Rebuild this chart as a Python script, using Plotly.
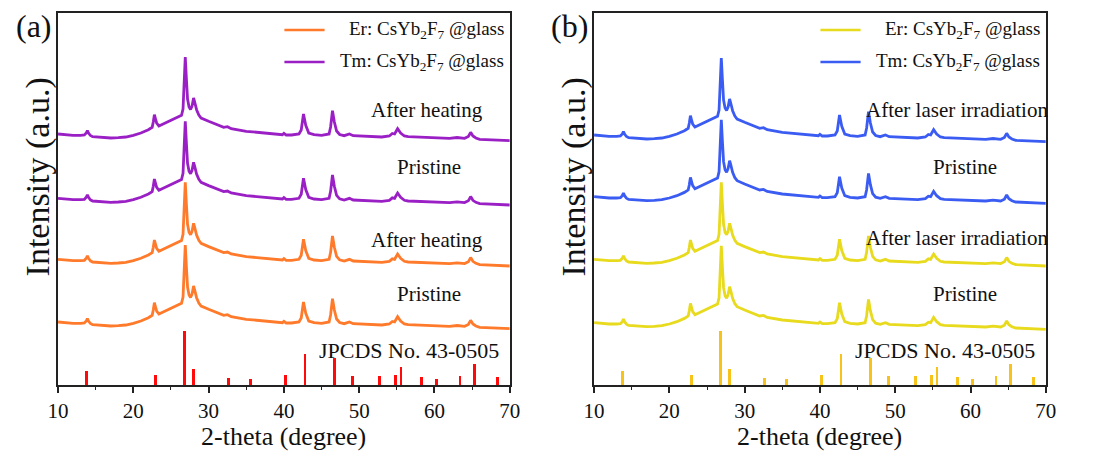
import plotly.graph_objects as go

# 2-theta sampling of the measured XRD pattern (degrees)
two_theta = [10.0, 11.0, 12.0, 13.0, 13.5, 13.75, 13.9, 14.05, 14.3, 14.6, 15.0, 16.0, 17.0,
             18.0, 19.0, 20.0, 21.0, 22.0, 22.5, 22.65, 22.8, 22.95, 23.1, 23.4, 24.0, 25.0,
             26.0, 26.4, 26.6, 26.75, 26.9, 27.05, 27.2, 27.4, 27.6, 27.8, 28.0, 28.15, 28.4,
             28.7, 29.0, 30.0, 31.0, 32.0, 32.5, 33.0, 35.0, 37.0, 39.0, 39.8, 40.0, 40.3,
             41.0, 42.0, 42.3, 42.6, 42.9, 43.3, 44.0, 45.0, 46.0, 46.2, 46.45, 46.7, 47.0,
             47.4, 48.0, 48.7, 49.2, 50.0, 51.0, 53.0, 54.0, 54.4, 54.7, 55.1, 55.5, 56.0,
             56.5, 58.0, 60.0, 62.0, 63.0, 64.0, 64.5, 64.8, 65.1, 65.5, 66.0, 68.0, 70.0]

# Intensity of the pristine Er sample (a.u.)
intensity = [63.0, 62.3, 61.7, 61.7, 62.0, 64.0, 66.5, 64.0, 61.5, 60.3, 60.0, 59.3, 59.0,
             59.3, 60.0, 61.7, 64.0, 67.3, 69.7, 75.0, 82.3, 78.0, 74.0, 71.0, 73.0, 76.3,
             79.7, 81.7, 88.0, 110.0, 140.0, 118.0, 98.0, 90.0, 87.5, 91.0, 99.0, 95.0, 87.3,
             82.0, 79.0, 75.7, 73.0, 69.7, 70.3, 68.3, 65.7, 64.0, 62.3, 62.3, 63.7, 62.0,
             62.0, 63.0, 67.0, 83.0, 71.7, 64.0, 62.3, 61.7, 63.0, 70.0, 86.3, 75.0, 66.0,
             62.5, 61.3, 63.0, 61.3, 61.0, 60.3, 60.0, 61.0, 63.5, 63.0, 68.3, 64.0, 61.0,
             60.3, 59.7, 59.0, 58.7, 59.5, 58.7, 60.5, 64.7, 61.0, 59.0, 57.7, 57.0, 56.3]

# Vertical stacking offsets of each pattern (a.u.)
offsets_a = {"Er pristine": 0.0, "Er heated": 62.7, "Tm pristine": 123.7, "Tm heated": 188.0}
offsets_b = {"Er pristine": -0.7, "Er irradiated": 62.7, "Tm pristine": 125.3, "Tm irradiated": 187.0}

# Standard card JCPDS 43-0505 (CsYb2F7)
ref_pos = [13.8, 22.9, 26.85, 28.05, 32.6, 35.6, 40.2, 42.8, 46.75, 49.1, 52.7, 54.85,
           55.55, 58.25, 60.25, 63.4, 65.3, 68.4]
ref_int = [14.0, 10.0, 54.0, 16.0, 7.0, 6.0, 10.0, 30.6, 27.0, 9.0, 8.7, 9.7,
           18.3, 7.7, 6.0, 9.0, 21.0, 8.3]

ORANGE = "#ff7a2a"
PURPLE = "#9a1fc4"
YELLOW = "#e8da1c"
BLUE = "#3b5cf2"
RED = "#ff0a0a"
GOLD = "#f7c21a"
FONT = "Liberation Serif"
INK = "#111111"
W, H = 1097, 452
TOP, BOTTOM = 13, 385
PA = (48, 509)
PB = (595, 1056)


def px(x):
    return x / W


def py(y):
    return (BOTTOM - y) / (BOTTOM - TOP)


fig = go.Figure()

panels = [
    ("x", "y", offsets_a, [ORANGE, ORANGE, PURPLE, PURPLE], RED),
    ("x2", "y2", offsets_b, [YELLOW, YELLOW, BLUE, BLUE], GOLD),
]
for xa, ya, offs, cols, stick_col in panels:
    fig.add_trace(go.Bar(x=ref_pos, y=ref_int, width=0.38, marker=dict(color=stick_col, line_width=0),
                         xaxis=xa, yaxis=ya, showlegend=False, hoverinfo="skip"))
    for (name, off), col in zip(offs.items(), cols):
        fig.add_trace(go.Scatter(x=two_theta, y=[v + off for v in intensity], mode="lines",
                                 line=dict(color=col, width=2.8), name=name,
                                 xaxis=xa, yaxis=ya, showlegend=False))

axis_common = dict(range=[10, 70], showline=True, linecolor="#222222", linewidth=1.5, mirror=True,
                   ticks="outside", ticklen=6, tickwidth=1.5, tickcolor="#222222", dtick=10,
                   tick0=10, showgrid=False, zeroline=False,
                   tickfont=dict(family=FONT, size=21, color=INK),
                   minor=dict(ticks="outside", ticklen=3.5, tickwidth=1.2, tickcolor="#222222", dtick=5,
                              tick0=10, showgrid=False))
yaxis_common = dict(range=[0, BOTTOM - TOP], showline=True, linecolor="#222222", linewidth=1.5,
                    mirror=True, ticks="", showticklabels=False, showgrid=False, zeroline=False)

fig.update_layout(
    width=W, height=H,
    margin=dict(l=0, r=0, t=TOP, b=H - BOTTOM),
    paper_bgcolor="white", plot_bgcolor="white",
    bargap=0,
    xaxis=dict(domain=[px(PA[0]), px(PA[1])], anchor="y", **axis_common),
    yaxis=dict(domain=[0, 1], anchor="x", **yaxis_common),
    xaxis2=dict(domain=[px(PB[0]), px(PB[1])], anchor="y2", **axis_common),
    yaxis2=dict(domain=[0, 1], anchor="x2", **yaxis_common),
)

ann = []
shapes = []


def text(x, y, s, size=21, xanchor="center", angle=0):
    ann.append(dict(x=px(x), y=py(y), xref="paper", yref="paper", text=s, showarrow=False,
                    xanchor=xanchor, yanchor="middle", textangle=angle,
                    font=dict(family=FONT, size=size, color=INK)))


for dx, lab, c1, c2, phrase in [
    (0, "(a)", ORANGE, PURPLE, "After heating"),
    (547, "(b)", YELLOW, BLUE, "After laser irradiation"),
]:
    text(23 + dx, 26, lab, size=32)
    text(28 + dx, 177, "Intensity (a.u.)", size=34, angle=-90)
    text(278.5 + dx, 436, "2-theta (degree)", size=26)
    # legend
    text(505 + dx, 30, "Er: CsYb<sub>2</sub>F<sub>7</sub> @glass", size=19, xanchor="right")
    text(505 + dx, 62, "Tm: CsYb<sub>2</sub>F<sub>7</sub> @glass", size=19, xanchor="right")
    for yy, col in [(30, c1), (62, c2)]:
        shapes.append(dict(type="line", xref="paper", yref="paper", x0=px(279 + dx), x1=px(320 + dx),
                           y0=py(yy), y1=py(yy), line=dict(color=col, width=2.5)))
    # curve labels
    cx = 425 + dx if dx == 0 else 965
    text(cx, 110, phrase)
    text(427 + dx, 167, "Pristine")
    text(cx, 240 if dx == 0 else 238, phrase)
    text(427 + dx, 294, "Pristine")
    text(406 + dx, 350, "JPCDS No. 43-0505", size=22)

fig.update_layout(annotations=ann, shapes=shapes)
fig.write_html("out.html")
